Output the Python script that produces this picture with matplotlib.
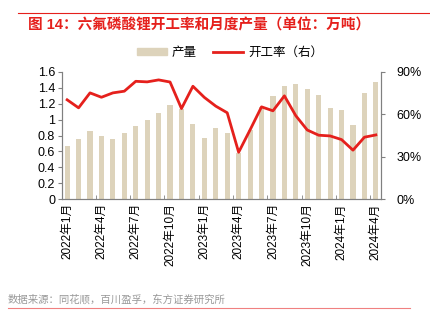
import matplotlib.pyplot as plt
from matplotlib.lines import Line2D
from matplotlib.patches import Patch

plt.rcParams['font.family'] = ['Liberation Sans', 'Noto Sans CJK SC']

# 2022年1月 - 2024年4月
months = [f"{2022 + i // 12}年{i % 12 + 1}月" for i in range(28)]
tick_labels = ["2022年1月", "2022年4月", "2022年7月", "2022年10月", "2023年1月",
               "2023年4月", "2023年7月", "2023年10月", "2024年1月", "2024年4月"]
output = [0.67, 0.75, 0.86, 0.79, 0.75, 0.83, 0.92, 1.00, 1.08, 1.18,
          1.14, 0.95, 0.77, 0.90, 0.83, 0.58, 0.87, 1.16, 1.30, 1.42,
          1.45, 1.39, 1.31, 1.15, 1.12, 0.93, 1.34, 1.48]
rate = [70.3, 64.6, 75.2, 72.1, 75.2, 76.4, 83.4, 83.0, 84.4, 82.9,
        64.1, 79.9, 72.0, 65.8, 61.1, 33.1, 49.0, 65.3, 62.5, 73.1,
        59.0, 48.9, 45.2, 44.7, 42.1, 34.6, 43.8, 45.4]

bar_color = "#DDD3BB"
red = "#E5201C"
grey = "#808080"

fig = plt.figure(figsize=(4.3, 3.25), dpi=100)
ax = fig.add_axes([62 / 430, 1 - 199 / 325, 319 / 430, 127 / 325])
x = list(range(len(months)))
ax.bar(x, output, width=0.45, color=bar_color, zorder=2)
ax.set_xlim(-0.45, 27.45)
ax.set_ylim(0, 1.6)
ax.set_yticks([0, 0.2, 0.4, 0.6, 0.8, 1.0, 1.2, 1.4, 1.6])
ax.set_yticklabels(["0", "0.2", "0.4", "0.6", "0.8", "1", "1.2", "1.4", "1.6"], fontsize=9)
ax.set_xticks([months.index(t) for t in tick_labels])
ax.set_xticklabels(tick_labels, rotation=90, fontsize=8.5)
ax.tick_params(axis='x', length=0, pad=3)
ax.set_xticks([i + 2.5 for i in range(0, 27, 3)], minor=True)
ax.tick_params(axis='x', which='minor', direction='in', length=3, color=grey)
ax.tick_params(axis='y', length=3, color=grey, pad=2)

ax2 = ax.twinx()
ax2.plot(x, rate, color=red, linewidth=2, zorder=3)
ax2.set_ylim(0, 90)
ax2.set_yticks([0, 30, 60, 90])
ax2.set_yticklabels(["0%", "30%", "60%", "90%"], fontsize=9)
ax2.tick_params(axis='y', length=3, color=grey, pad=8)

for a in (ax, ax2):
    a.spines['top'].set_visible(False)
    for s in ('left', 'right', 'bottom'):
        a.spines[s].set_color(grey)

handles = [Patch(color=bar_color), Line2D([], [], color=red, linewidth=2)]
fig.legend(handles, ["产量", "开工率（右）"], loc='center', bbox_to_anchor=(0.535, 1 - 53 / 325),
           ncol=2, frameon=False, fontsize=9, handlelength=2.4, handleheight=0.5,
           columnspacing=1.3, handletextpad=0.4)

fig.text(28 / 430, 1 - 25 / 325, "图 14：六氟磷酸锂开工率和月度产量（单位：万吨）",
         color=red, fontsize=10.5, fontweight='bold', va='center')
fig.add_artist(Line2D([18 / 430, 1], [1 - 13 / 325] * 2, color=red, linewidth=0.8))
fig.text(8 / 430, 1 - 299 / 325, "数据来源：同花顺，百川盈孚，东方证券研究所",
         color="#999999", fontsize=7.5, va='center')
fig.add_artist(Line2D([8 / 430, 410 / 430], [1 - 308 / 325] * 2, color="#F08080", linewidth=0.8))

fig.savefig("out.png", dpi=100)
